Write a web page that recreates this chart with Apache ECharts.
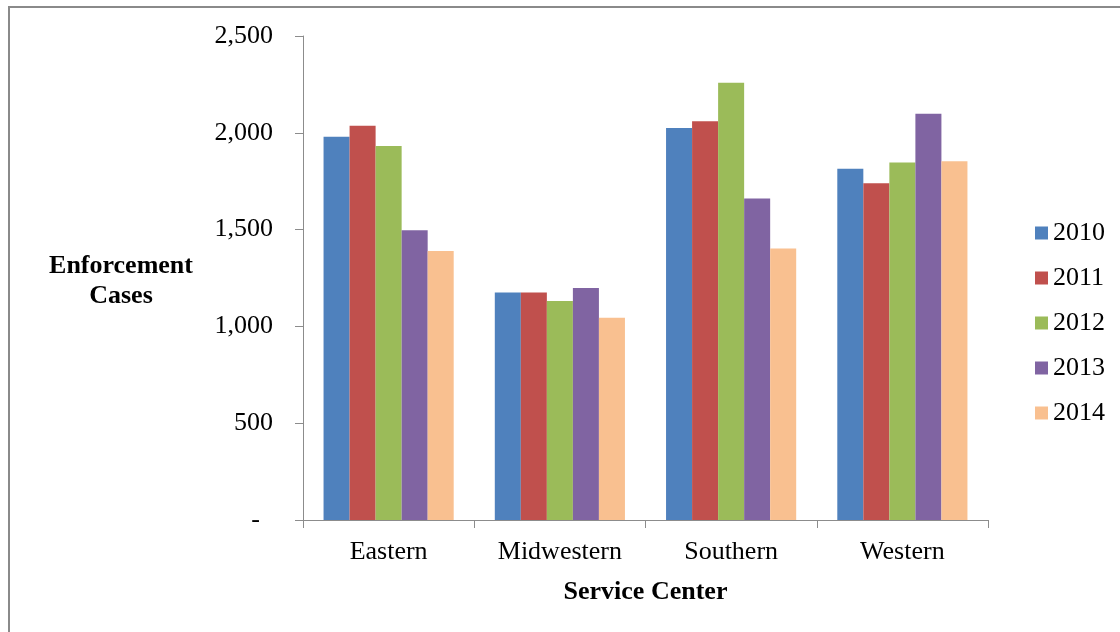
<!DOCTYPE html>
<html>
<head>
<meta charset="utf-8">
<script src="https://cdn.jsdelivr.net/npm/echarts@6/dist/echarts.min.js"></script>
<style>
  html, body { margin: 0; padding: 0; background: #fff; }
  #chart { width: 1120px; height: 632px; }
</style>
</head>
<body>
<div id="chart"></div>
<script>
// Enforcement cases by service center, 2010–2014
const centers = ['Eastern', 'Midwestern', 'Southern', 'Western'];
const years = ['2010', '2011', '2012', '2013', '2014'];
const cases2010 = [1979, 1175, 2025, 1814];
const cases2011 = [2037, 1175, 2060, 1740];
const cases2012 = [1932, 1131, 2258, 1847];
const cases2013 = [1496, 1198, 1661, 2098];
const cases2014 = [1389, 1045, 1403, 1853];
const yTicks = [0, 500, 1000, 1500, 2000, 2500];
const colors = ['#4f81bd', '#c0504d', '#9bbb59', '#8064a2', '#f9c090'];

const seriesValues = [cases2010, cases2011, cases2012, cases2013, cases2014];
const FONT = '"Liberation Serif", "Times New Roman", serif';

const chart = echarts.init(document.getElementById('chart'), null, { renderer: 'canvas' });

chart.setOption({
  animation: false,
  backgroundColor: '#ffffff',
  color: colors,
  grid: { left: 303, right: 132, top: 36, bottom: 112, containLabel: false },
  legend: {
    orient: 'vertical',
    left: 1030,
    top: 215,
    itemWidth: 13,
    itemHeight: 13,
    itemGap: 19,
    icon: 'rect',
    textStyle: { fontFamily: FONT, fontSize: 26, lineHeight: 26, color: '#000' },
    data: years
  },
  xAxis: {
    type: 'category',
    data: centers,
    axisLine: { lineStyle: { color: '#8c8c8c', width: 1 } },
    axisTick: { show: true, length: 8, alignWithLabel: false, lineStyle: { color: '#8c8c8c' } },
    axisLabel: { fontFamily: FONT, fontSize: 26, color: '#000', margin: 19 },
    name: 'Service Center',
    nameLocation: 'middle',
    nameGap: 59,
    nameTextStyle: { fontFamily: FONT, fontSize: 26, fontWeight: 'bold', color: '#000' }
  },
  yAxis: {
    type: 'value',
    min: yTicks[0],
    max: yTicks[yTicks.length - 1],
    interval: 500,
    splitLine: { show: false },
    axisLine: { show: true, lineStyle: { color: '#8c8c8c', width: 1 } },
    axisTick: { show: true, length: 8, lineStyle: { color: '#8c8c8c' } },
    axisLabel: {
      fontFamily: FONT, fontSize: 26, color: '#000', margin: 30,
      formatter: v => v === 0 ? '-  ' : v.toLocaleString('en-US')
    }
  },
  graphic: [
    {
      type: 'rect',
      shape: { x: 9, y: 7, width: 1200, height: 700 },
      style: { fill: 'none', stroke: '#8a8a8a', lineWidth: 2 },
      silent: true
    },
    {
      type: 'text',
      x: 121,
      y: 251,
      style: {
        text: 'Enforcement\nCases',
        fontFamily: FONT, fontSize: 26, fontWeight: 'bold', fill: '#000',
        align: 'center', lineHeight: 30
      }
    }
  ],
  series: years.map((y, i) => ({
    name: y,
    type: 'bar',
    data: seriesValues[i],
    barGap: '0%',
    barCategoryGap: '24%',
    itemStyle: { color: colors[i] }
  }))
});
</script>
</body>
</html>
